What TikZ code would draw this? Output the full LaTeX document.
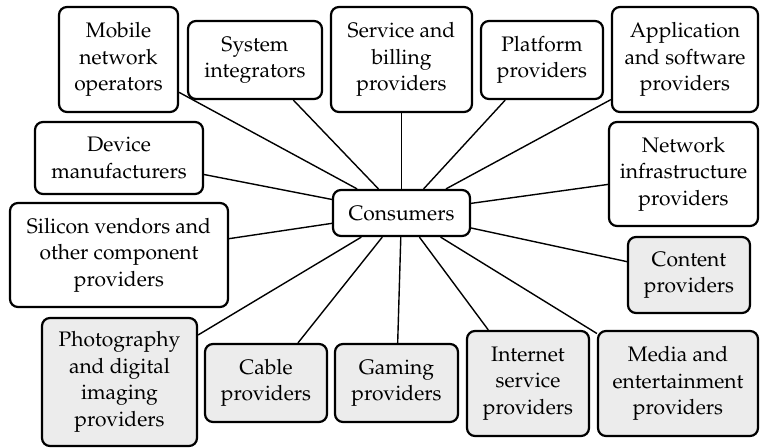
\documentclass[tikz,border=0pt]{standalone}
\usepackage[T1]{fontenc}
\usepackage{mathpazo}

\begin{document}
\begin{tikzpicture}
		[x=0.5pt, y=-0.5pt,
		 actor/.style={draw=black, line width=1.1pt, rounded corners=4pt, align=center, inner sep=2pt, font=\fontsize{10.5}{13.25}\selectfont},
		 shaded/.style={actor, fill=gray!15}]
		\useasboundingbox (0,0) rectangle (760,448);
		\node[actor, minimum width=68.5pt, minimum height=23pt] (con) at (401.5,213) {Consumers};
		\node[actor, minimum width=59.5pt, minimum height=52.5pt] (mno) at (118.5,59.5) {Mobile\\network\\operators};
		\node[actor, minimum width=67pt, minimum height=39pt] (si) at (255,60) {System\\integrators};
		\node[actor, minimum width=70.5pt, minimum height=52.5pt] (sbp) at (401.5,59.5) {Service and\\billing\\providers};
		\node[actor, minimum width=61pt, minimum height=39pt] (plat) at (542,60) {Platform\\providers};
		\node[actor, minimum width=73pt, minimum height=52.5pt] (app) at (685,59.5) {Application\\and software\\providers};
		\node[actor, minimum width=84pt, minimum height=36pt] (dev) at (119,158) {Device\\manufacturers};
		\node[actor, minimum width=74.5pt, minimum height=52pt] (net) at (683.5,174) {Network\\infrastructure\\providers};
		\node[actor, minimum width=109pt, minimum height=52pt] (sil) at (119,255) {Silicon vendors and\\other component\\providers};
		\node[shaded, minimum width=61pt, minimum height=38pt] (cont) at (689,275) {Content\\providers};
		\node[shaded, minimum width=77.5pt, minimum height=64pt] (photo) at (119.5,382) {Photography\\and digital\\imaging\\providers};
		\node[shaded, minimum width=61pt, minimum height=39pt] (cab) at (266,383) {Cable\\providers};
		\node[shaded, minimum width=61.5pt, minimum height=39pt] (game) at (396.5,383) {Gaming\\providers};
		\node[shaded, minimum width=61pt, minimum height=52.5pt] (isp) at (528,383.5) {Internet\\service\\providers};
		\node[shaded, minimum width=80pt, minimum height=52.5pt] (media) at (678,383.5) {Media and\\entertainment\\providers};
		\draw[line width=0.7pt] (con) -- (mno);
		\draw[line width=0.7pt] (con) -- (si);
		\draw[line width=0.7pt] (con) -- (sbp);
		\draw[line width=0.7pt] (con) -- (plat);
		\draw[line width=0.7pt] (con) -- (app);
		\draw[line width=0.7pt] (con) -- (dev);
		\draw[line width=0.7pt] (con) -- (net);
		\draw[line width=0.7pt] (con) -- (sil);
		\draw[line width=0.7pt] (con) -- (cont);
		\draw[line width=0.7pt] (con) -- (photo);
		\draw[line width=0.7pt] (con) -- (cab);
		\draw[line width=0.7pt] (con) -- (game);
		\draw[line width=0.7pt] (con) -- (isp);
		\draw[line width=0.7pt] (con) -- (media);
	\end{tikzpicture}
\end{document}
